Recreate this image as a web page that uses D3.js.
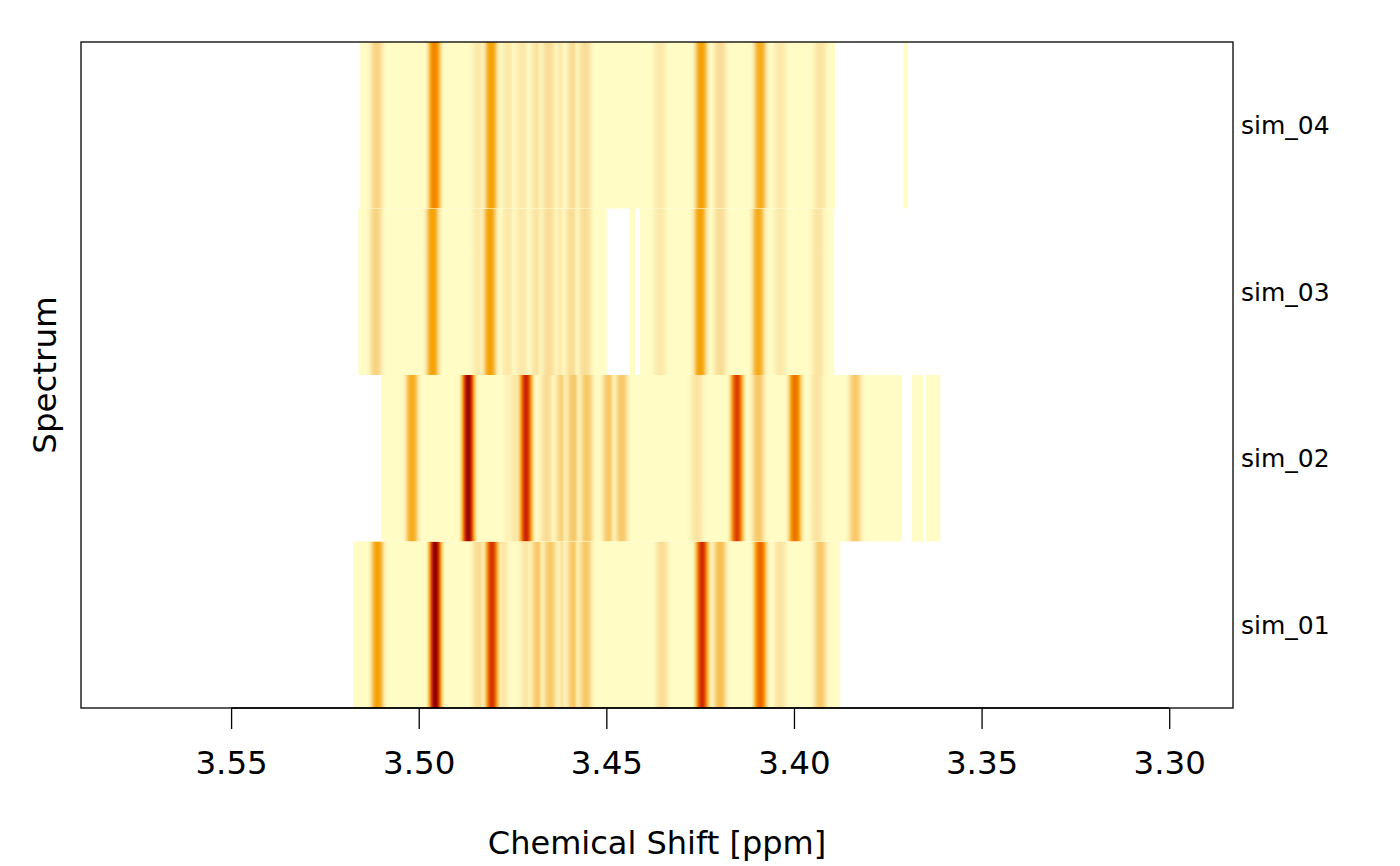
<!DOCTYPE html>
<html>
<head>
<meta charset="utf-8">
<script src="https://cdn.jsdelivr.net/npm/d3@7"></script>
<style>
    body { margin: 0; background: #fff; }
    svg { display: block; font-family: "DejaVu Sans", sans-serif; }
</style>
</head>
<body>
<div id="app"></div>
<script>
"use strict";

// spectra, bottom to top
const spectra = ["sim_01", "sim_02", "sim_03", "sim_04"];
const xTicks = [3.55, 3.50, 3.45, 3.40, 3.35, 3.30];
const xDomain = [3.590, 3.283];

// ppm ranges where each spectrum has data [from, to]
const sim01Ranges = [[3.5175, 3.3877]];
const sim02Ranges = [[3.5100, 3.3712], [3.3686, 3.3655], [3.3648, 3.3610]];
const sim03Ranges = [[3.5161, 3.4499], [3.4437, 3.4423], [3.4410, 3.3893]];
const sim04Ranges = [[3.5156, 3.3890], [3.3708, 3.3696]];

// peaks [shift ppm, relative intensity]
const sim01Peaks = [
    [3.5110, 0.50], [3.4956, 1.00], [3.4841, 0.20], [3.4805, 0.82], [3.4779, 0.15],
    [3.4712, 0.15], [3.4683, 0.30], [3.4650, 0.30], [3.4619, 0.15], [3.4588, 0.30],
    [3.4555, 0.30], [3.4352, 0.20], [3.4245, 0.84], [3.4215, 0.15], [3.4197, 0.35],
    [3.4090, 0.70], [3.4037, 0.15], [3.3930, 0.30]
];
const sim02Peaks = [
    [3.5018, 0.45], [3.4868, 0.98], [3.4751, 0.15], [3.4738, 0.15], [3.4714, 0.86],
    [3.4659, 0.20], [3.4619, 0.25], [3.4588, 0.30], [3.4552, 0.30], [3.4494, 0.30],
    [3.4459, 0.30], [3.4259, 0.15], [3.4152, 0.80], [3.4095, 0.30], [3.3997, 0.66],
    [3.3939, 0.15], [3.3837, 0.30]
];
const sim03Peaks = [
    [3.5114, 0.25], [3.4963, 0.50], [3.4841, 0.12], [3.4810, 0.50], [3.4762, 0.12],
    [3.4725, 0.12], [3.4685, 0.15], [3.4654, 0.20], [3.4629, 0.12], [3.4592, 0.20],
    [3.4557, 0.20], [3.4357, 0.12], [3.4250, 0.50], [3.4197, 0.20], [3.4095, 0.45],
    [3.4037, 0.12], [3.3936, 0.15]
];
const sim04Peaks = [
    [3.5112, 0.25], [3.4958, 0.60], [3.4841, 0.12], [3.4807, 0.50], [3.4762, 0.12],
    [3.4725, 0.12], [3.4685, 0.15], [3.4654, 0.20], [3.4629, 0.12], [3.4588, 0.20],
    [3.4557, 0.20], [3.4357, 0.12], [3.4247, 0.50], [3.4197, 0.20], [3.4090, 0.45],
    [3.4037, 0.12], [3.3930, 0.15]
];

const ranges = new Map([["sim_01", sim01Ranges], ["sim_02", sim02Ranges], ["sim_03", sim03Ranges], ["sim_04", sim04Ranges]]);
const peaks = new Map([["sim_01", sim01Peaks], ["sim_02", sim02Peaks], ["sim_03", sim03Peaks], ["sim_04", sim04Peaks]]);

const W = 1400, H = 866;
const plot = { left: 81, right: 1233, top: 42, bottom: 708 };

const x = d3.scaleLinear().domain(xDomain).range([plot.left, plot.right]);
const y = d3.scaleBand().domain(spectra).range([plot.bottom, plot.top]).padding(0);

const heat = d3.scaleLinear()
    .domain([0, 0.2, 0.5, 0.7, 0.85, 1])
    .range(["#FFFCC6", "#F9DC96", "#F5A000", "#EE6400", "#CC2200", "#8B0000"])
    .clamp(true);

const peakHalfWidth = 0.0029; // ppm
// peak profile along the gradient: [offset, fraction of peak intensity]
const profile = [
    [0, 0], [0.1, 0.12], [0.22, 0.42], [0.33, 0.78], [0.42, 0.95], [0.5, 1],
    [0.58, 0.95], [0.67, 0.78], [0.78, 0.42], [0.9, 0.12], [1, 0]
];

const svg = d3.select("#app").append("svg")
    .attr("width", W)
    .attr("height", H);

const defs = svg.append("defs");
defs.append("clipPath").attr("id", "plotClip")
    .append("rect")
    .attr("x", plot.left).attr("y", plot.top)
    .attr("width", plot.right - plot.left).attr("height", plot.bottom - plot.top);

const cells = svg.append("g").attr("clip-path", "url(#plotClip)");

spectra.forEach((name, si) => {
    const row = cells.append("g").attr("class", name);

    // mask so peaks only show where the spectrum has data
    const maskId = `mask_${name}`;
    const mask = defs.append("mask").attr("id", maskId);
    mask.selectAll("rect")
        .data(ranges.get(name))
        .enter()
        .append("rect")
        .attr("x", d => x(d[0]))
        .attr("width", d => x(d[1]) - x(d[0]))
        .attr("y", y(name))
        .attr("height", y.bandwidth())
        .attr("fill", "#fff");

    row.selectAll("rect.bg")
        .data(ranges.get(name))
        .enter()
        .append("rect")
        .attr("class", "bg")
        .attr("x", d => x(d[0]))
        .attr("width", d => x(d[1]) - x(d[0]))
        .attr("y", y(name))
        .attr("height", y.bandwidth())
        .attr("fill", heat(0));

    const sorted = peaks.get(name).slice().sort((a, b) => a[1] - b[1]);

    sorted.forEach((p, pi) => {
        const gid = `g_${si}_${pi}`;
        const grad = defs.append("linearGradient").attr("id", gid)
            .attr("x1", "0%").attr("x2", "100%").attr("y1", "0%").attr("y2", "0%");
        for (let [off, f] of profile) {
            grad.append("stop")
                .attr("offset", off)
                .attr("stop-color", heat(p[1] * f))
                .attr("stop-opacity", f == 0 ? 0 : Math.min(1, 0.5 + f));
        }
    });

    row.append("g")
        .attr("mask", `url(#${maskId})`)
        .selectAll("rect")
        .data(sorted)
        .enter()
        .append("rect")
        .attr("x", d => x(d[0] + peakHalfWidth))
        .attr("width", d => x(d[0] - peakHalfWidth) - x(d[0] + peakHalfWidth))
        .attr("y", y(name))
        .attr("height", y.bandwidth())
        .attr("fill", (d, i) => `url(#g_${si}_${i})`);
});

// box
svg.append("rect")
    .attr("x", plot.left).attr("y", plot.top)
    .attr("width", plot.right - plot.left).attr("height", plot.bottom - plot.top)
    .attr("fill", "none")
    .attr("stroke", "#000")
    .attr("stroke-width", 1.3);

// x axis
const xAxis = d3.axisBottom(x)
    .tickValues(xTicks)
    .tickFormat(d3.format(".2f"))
    .tickSize(21)
    .tickPadding(22);

const gx = svg.append("g")
    .attr("transform", `translate(0, ${plot.bottom})`)
    .call(xAxis);
gx.select(".domain")
    .attr("d", `M${x(xTicks[0])},0H${x(xTicks[xTicks.length - 1])}`)
    .attr("stroke-width", 1.3);
gx.selectAll(".tick line").attr("stroke-width", 1.3);
gx.selectAll(".tick text")
    .attr("font-size", 32.5)
    .attr("font-family", "DejaVu Sans")
    .attr("fill", "#000");

// spectrum names on the right
svg.append("g")
    .selectAll("text")
    .data(spectra)
    .enter()
    .append("text")
    .attr("x", plot.right + 8)
    .attr("y", d => y(d) + y.bandwidth() / 2)
    .attr("dy", "0.35em")
    .attr("font-size", 25)
    .text(d => d);

// axis titles
svg.append("text")
    .attr("x", (plot.left + plot.right) / 2)
    .attr("y", 854)
    .attr("text-anchor", "middle")
    .attr("font-size", 32)
    .text("Chemical Shift [ppm]");

svg.append("text")
    .attr("transform", `translate(56, ${(plot.top + plot.bottom) / 2}) rotate(-90)`)
    .attr("text-anchor", "middle")
    .attr("font-size", 32.5)
    .text("Spectrum");
</script>
</body>
</html>
